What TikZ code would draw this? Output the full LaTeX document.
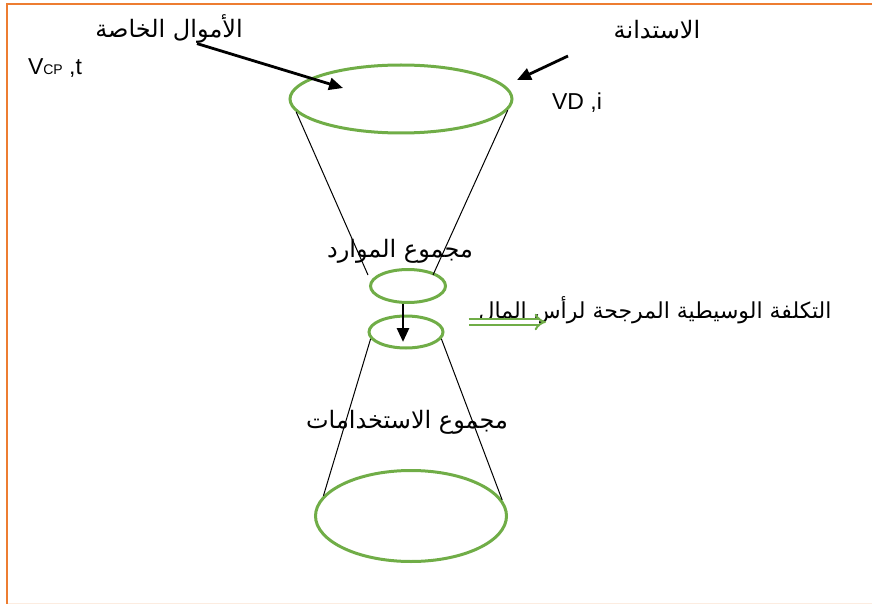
\documentclass[tikz,border=0pt]{standalone}
\usepackage{fontspec}
\setmainfont{Liberation Sans}
\newfontfamily\arabicfont[Script=Arabic]{DejaVu Sans}
\TeXXeTstate=1
\usetikzlibrary{shapes.geometric, arrows.meta, positioning}
\definecolor{cGreen} {HTML}{70AD47}
\definecolor{cOrange}{HTML}{ED7D31}
\tikzset{
  ring/.style  = {ellipse, draw=cGreen, line width=3pt, inner sep=0pt},
  ar/.style    = {inner sep=0pt, font=\arabicfont\fontsize{24}{27}\selectfont},
  lat/.style   = {inner sep=0pt, font=\fontsize{23}{26}\selectfont},
  arr/.style   = {-{Triangle[length=14pt,width=12pt]}, line width=2.8pt},
  cone/.style  = {line width=1pt},
  hollow/.style= {-{Implies}, draw=cGreen, line width=2pt,
                  double=white, double distance=3.5pt},
}

\begin{document}
\begin{tikzpicture}[x=1pt, y=-1pt]
  \useasboundingbox (0,0) rectangle (872,604);
  % frame
  \draw[cOrange!15, line width=1pt] (7,603) -- (872,603);
  \draw[cOrange, line width=2.6pt] (7,604) -- (7,4) -- (872,4);

  % ellipses
  \node[ring, minimum width=222pt, minimum height=68pt] (top) at (401,99)  {};
  \node[ring, minimum width=75pt,  minimum height=33pt] (res) at (408,286) {};
  \node[ring, minimum width=74pt,  minimum height=32pt] (use) at (406,332) {};
  \node[ring, minimum width=191pt, minimum height=91pt] (bot) at (411,516) {};

  % labels
  \node[ar]  (priv)   at (169,29)  {\beginR الأموال الخاصة\endR};
  \node[lat] (vcp)    at (55,68)   {V{\fontsize{14}{14}\selectfont CP} ,t};
  \node[ar]  (debt)   at (657,30)  {\beginR الاستدانة\endR};
  \node[lat] (vdi)    at (577,103) {VD ,i};
  \node[ar]  (ressum) at (400,251) {\beginR مجموع الموارد\endR};
  \node[ar]  (usesum) at (407,422) {\beginR مجموع الاستخدامات\endR};
  \node[ar, font=\arabicfont\fontsize{22}{26}\selectfont]
             (wacc)   at (655,310) {\beginR التكلفة الوسيطية المرجحة لرأس المال\endR};

  \coordinate (privtip)  at (343,88);
  \coordinate (debtfrom) at (568,56);
  \coordinate (debttip)  at (517,80);
  \coordinate (neckL)    at (368,275);
  \coordinate (neckR)    at (433,275);
  \coordinate (wacctip)  at (546,322);

  % cone
  \draw[cone] (top.187) -- (neckL);
  \draw[cone] (top.354) -- (neckR);
  \draw[cone] (use.191) -- (bot.167);
  \draw[cone] (use.349) -- (bot.10);

  % arrows
  \draw[arr] ([xshift=28pt]priv.south) -- (privtip);
  \draw[arr] (debtfrom) -- (debttip);
  \draw[arr] ([xshift=-5pt]res.south) -- ([xshift=-3pt,yshift=-10pt]use.center);
  \draw[hollow] ([xshift=24pt,yshift=10pt]use.east) -- (wacctip);
\end{tikzpicture}
\end{document}
